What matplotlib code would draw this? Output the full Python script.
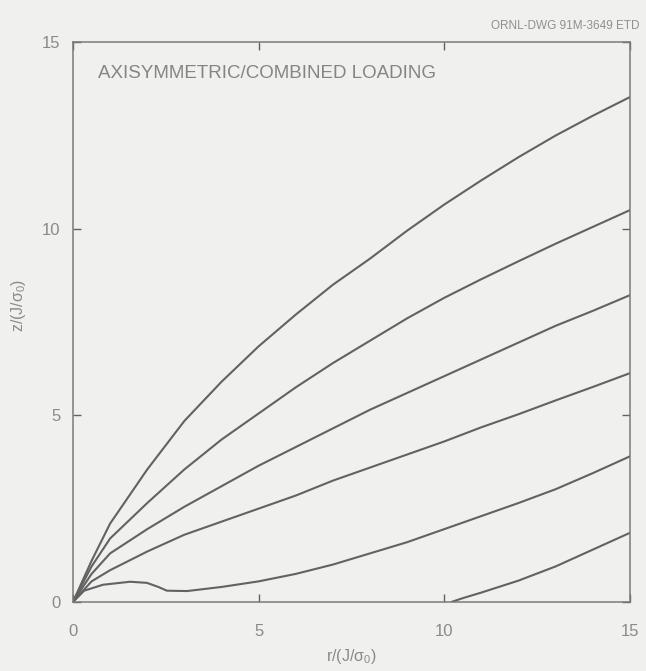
import numpy as np
import matplotlib
matplotlib.use("Agg")
import matplotlib.pyplot as plt

plt.rcParams['font.family'] = ['Liberation Sans', 'DejaVu Sans']
plt.rcParams['mathtext.fontset'] = 'custom'
plt.rcParams['mathtext.rm'] = 'Liberation Sans'
plt.rcParams['mathtext.it'] = 'Liberation Sans'

# curves, r/(J/sigma0) vs z/(J/sigma0)
r_a = [0, 0.5, 1.0, 2.0, 3.0, 4.0, 5.0, 6.0, 7.0, 8.0, 9.0, 10.0, 11.0, 12.0, 13.0, 14.0, 15.0]
z_a = [0, 1.1, 2.1, 3.55, 4.85, 5.9, 6.85, 7.7, 8.5, 9.2, 9.95, 10.65, 11.3, 11.92, 12.5, 13.03, 13.53]

r_b = [0, 0.5, 1.0, 2.0, 3.0, 4.0, 5.0, 6.0, 7.0, 8.0, 9.0, 10.0, 11.0, 12.0, 13.0, 14.0, 15.0]
z_b = [0, 0.95, 1.7, 2.65, 3.55, 4.35, 5.05, 5.75, 6.4, 7.0, 7.6, 8.15, 8.65, 9.13, 9.6, 10.05, 10.5]

r_c = [0, 0.5, 1.0, 2.0, 3.0, 4.0, 5.0, 6.0, 7.0, 8.0, 9.0, 10.0, 11.0, 12.0, 13.0, 14.0, 15.0]
z_c = [0, 0.75, 1.3, 1.95, 2.55, 3.1, 3.65, 4.15, 4.65, 5.15, 5.6, 6.05, 6.5, 6.95, 7.4, 7.8, 8.22]

r_d = [0, 0.5, 1.0, 2.0, 3.0, 4.0, 5.0, 6.0, 7.0, 8.0, 9.0, 10.0, 11.0, 12.0, 13.0, 14.0, 15.0]
z_d = [0, 0.55, 0.85, 1.35, 1.8, 2.15, 2.5, 2.85, 3.25, 3.6, 3.95, 4.3, 4.68, 5.03, 5.4, 5.76, 6.13]

r_e = [0, 0.3, 0.81, 1.54, 1.99, 2.3, 2.53, 3.07, 4.0, 5.0, 6.0, 7.0, 8.0, 9.0, 10.0, 11.0, 12.0, 13.0, 14.0, 15.0]
z_e = [0, 0.3, 0.46, 0.54, 0.51, 0.4, 0.3, 0.29, 0.4, 0.55, 0.75, 1.0, 1.3, 1.6, 1.95, 2.3, 2.65, 3.02, 3.45, 3.9]

r_f = [10.2, 10.5, 11.0, 12.0, 13.0, 14.0, 15.0]
z_f = [0, 0.1, 0.25, 0.57, 0.95, 1.4, 1.85]

curves = [(r_a, z_a), (r_b, z_b), (r_c, z_c), (r_d, z_d), (r_e, z_e), (r_f, z_f)]

ticks = [0, 5, 10, 15]

bg = '#f0f0ee'
ink = '#626262'
txt = '#8a8a8a'

fig = plt.figure(figsize=(6.46, 6.71), dpi=100, facecolor=bg)
ax = fig.add_axes([0.113, 0.103, 0.862, 0.834], facecolor=bg)

for r, z in curves:
    ax.plot(r, z, color=ink, lw=1.5, solid_capstyle='round', solid_joinstyle='round')

ax.set_xlim(0, 15)
ax.set_ylim(0, 15)
ax.set_xticks(ticks)
ax.set_yticks(ticks)
ax.tick_params(direction='in', length=6, width=1, colors=ink, labelcolor=txt,
               labelsize=12, top=True, right=True)
ax.tick_params(axis='x', pad=16)
ax.tick_params(axis='y', pad=9)

for s in ax.spines.values():
    s.set_color('#7a7a7a')
    s.set_linewidth(1.1)

ax.set_xlabel(r'r/(J/$\sigma_0$)', color=txt, fontsize=11.5, labelpad=6)
ax.set_ylabel(r'z/(J/$\sigma_0$)', color=txt, fontsize=11.5)
ax.yaxis.set_label_coords(-0.08, 0.53)

ax.text(0.045, 0.96, 'AXISYMMETRIC/COMBINED LOADING', transform=ax.transAxes,
        color='#858585', fontsize=13.5, va='top', ha='left')

fig.text(0.99, 0.952, 'ORNL-DWG 91M-3649 ETD', color='#909090', fontsize=8.5,
         ha='right', va='bottom')

fig.savefig('out.png', dpi=100, facecolor=bg)
